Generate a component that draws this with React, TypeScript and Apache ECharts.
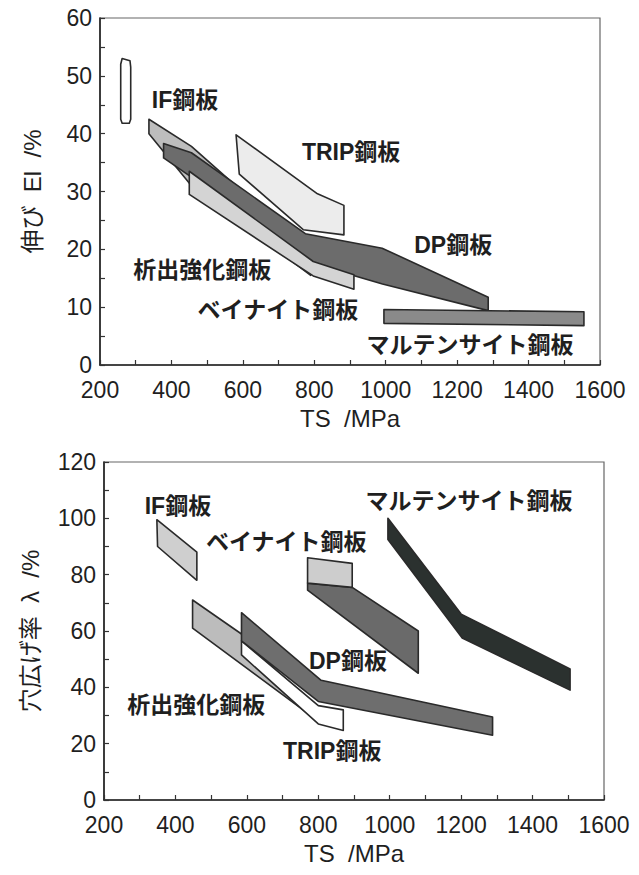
import React, { useEffect, useRef } from "react";
import * as echarts from "echarts";

// ---- axes ----
const TS_MIN = 200;
const TS_MAX = 1600;
const TS_STEP = 200;
const EL_MAX = 60;
const EL_STEP = 10;
const HER_MAX = 120;
const HER_STEP = 20;

// ---- top chart: TS (MPa) vs elongation El (%) ----
const elIF = [[258, 42.5], [258, 52], [262, 53], [284, 52.6], [286, 51.5], [286, 42.5], [282, 41.8], [262, 41.8]];
const elPrecip = [[337, 42.5], [456, 37.8], [790, 19.5], [790, 15.5], [456, 31], [337, 40]];
const elDP = [[378, 38.3], [456, 36.7], [775, 22.7], [990, 20.2], [1287, 11.7], [1287, 9.4], [991, 14], [797, 17.5], [456, 32.5], [378, 35.8]];
const elBainite = [[450, 33.5], [797, 17.9], [911, 15.6], [911, 13.1], [797, 15.4], [450, 29.5]];
const elTRIP = [[581, 39.8], [809, 29.6], [883, 27.6], [883, 22.5], [769, 23.4], [590, 33]];
const elMart = [[995, 9.6], [1555, 9.2], [1555, 6.8], [995, 7.2]];

const elLabelNames = ["IF鋼板", "TRIP鋼板", "DP鋼板", "析出強化鋼板", "ベイナイト鋼板", "マルテンサイト鋼板"];
const elLabelTS = [438, 903, 1189, 486, 698, 1236];
const elLabelEl = [45.8, 36.9, 20.8, 16.4, 9.5, 3.5];

// ---- bottom chart: TS (MPa) vs hole expansion ratio λ (%) ----
const hIF = [[348, 99.5], [460, 88], [460, 78], [350, 90]];
const hPrecip = [[448, 71], [590, 58.5], [800, 30], [800, 28], [448, 61]];
const hTRIP = [[585, 56.5], [800, 33.5], [870, 32], [870, 24.7], [800, 27], [585, 51.5]];
const hDP = [[585, 66.5], [808, 42.5], [1288, 29.5], [1288, 23], [800, 35], [585, 56.5]];
const hBainite = [[770, 77], [895, 75.5], [1080, 60], [1080, 45], [770, 74.5]];
const hBainiteBox = [[770, 86], [895, 84], [895, 75.5], [770, 77]];
const hMart = [[995, 100], [1200, 66], [1505, 46.5], [1505, 39], [1203, 57.5], [995, 92.5]];

const hLabelNames = ["IF鋼板", "ベイナイト鋼板", "マルテンサイト鋼板", "DP鋼板", "析出強化鋼板", "TRIP鋼板"];
const hLabelTS = [407, 710, 1222, 883, 458, 839];
const hLabelV = [104.5, 91.6, 106, 49.3, 33.7, 17.4];

const FONT = '"Liberation Sans", "Noto Sans CJK JP", sans-serif';
const INK = "#1f1f1f";

function polySeries(name: string, pts: number[][], fill: string, g: number, z: number) {
  return {
    type: "custom",
    name,
    xAxisIndex: g,
    yAxisIndex: g,
    silent: true,
    z,
    data: [pts[0]],
    renderItem: (params: any, api: any) => ({
      type: "polygon",
      shape: { points: pts.map((p) => api.coord(p)) },
      style: { fill, stroke: "#2a2a2a", lineWidth: 1.6, lineJoin: "round" },
    }),
  };
}

function labelSeries(names: string[], xs: number[], ys: number[], g: number) {
  return {
    type: "custom",
    xAxisIndex: g,
    yAxisIndex: g,
    silent: true,
    z: 20,
    data: xs.map((x, i) => [x, ys[i]]),
    renderItem: (params: any, api: any) => {
      const p = api.coord([api.value(0), api.value(1)]);
      return {
        type: "text",
        x: p[0],
        y: p[1],
        style: {
          text: names[params.dataIndex],
          fill: INK,
          font: `bold 23px ${FONT}`,
          align: "center",
          verticalAlign: "middle",
        },
      };
    },
  };
}

const tickStyle = { color: "#333", width: 1.2 };

function xAxis(g: number) {
  return {
    type: "value",
    gridIndex: g,
    min: TS_MIN,
    max: TS_MAX,
    interval: TS_STEP,
    name: "TS  /MPa",
    nameLocation: "middle",
    nameGap: 41,
    nameTextStyle: { fontSize: 24, color: INK, fontFamily: FONT },
    axisLine: { show: true, lineStyle: { color: "#222", width: 1.6 } },
    axisTick: { show: true, inside: true, length: 5, lineStyle: tickStyle },
    minorTick: { show: true, splitNumber: 2, length: 5, lineStyle: tickStyle },
    splitLine: { show: false },
    axisLabel: { fontSize: 23, color: INK, fontFamily: FONT, margin: 13, formatter: (v: number) => String(v) },
  };
}

function yAxis(g: number, max: number, step: number, name: string, gap: number) {
  return {
    type: "value",
    gridIndex: g,
    min: 0,
    max,
    interval: step,
    name,
    nameLocation: "middle",
    nameRotate: 90,
    nameGap: gap,
    nameTextStyle: { fontSize: 24, color: INK, fontFamily: FONT },
    axisLine: { show: true, lineStyle: { color: "#222", width: 1.6 } },
    axisTick: { show: true, inside: true, length: 5, lineStyle: tickStyle },
    minorTick: { show: true, splitNumber: 2, length: 5, lineStyle: tickStyle },
    splitLine: { show: false },
    axisLabel: { fontSize: 23, color: INK, fontFamily: FONT, margin: 8, formatter: (v: number) => String(v) },
  };
}

export default function App() {
  const ref = useRef<HTMLDivElement>(null);
  useEffect(() => {
    document.body.style.margin = "0";
    const chart = echarts.init(ref.current!, undefined, { renderer: "svg" });
    chart.setOption({
      animation: false,
      backgroundColor: "#ffffff",
      grid: [
        { left: 100, top: 18, width: 500, height: 347, show: true, borderColor: "#666", borderWidth: 1.2 },
        { left: 104, top: 462, width: 500, height: 338, show: true, borderColor: "#666", borderWidth: 1.2 },
      ],
      xAxis: [xAxis(0), xAxis(1)],
      yAxis: [
        yAxis(0, EL_MAX, EL_STEP, "伸び  El  /%", 56),
        yAxis(1, HER_MAX, HER_STEP, "穴広げ率  λ  /%", 62),
      ],
      series: [
        polySeries("析出強化鋼板", elPrecip, "#bdbdbd", 0, 2),
        polySeries("DP鋼板", elDP, "#6c6c6c", 0, 3),
        polySeries("ベイナイト鋼板", elBainite, "#d4d4d4", 0, 4),
        polySeries("TRIP鋼板", elTRIP, "#ececec", 0, 5),
        polySeries("IF鋼板", elIF, "#ffffff", 0, 5),
        polySeries("マルテンサイト鋼板", elMart, "#8a8a8a", 0, 5),
        labelSeries(elLabelNames, elLabelTS, elLabelEl, 0),

        polySeries("析出強化鋼板", hPrecip, "#bcbcbc", 1, 2),
        polySeries("TRIP鋼板", hTRIP, "#ffffff", 1, 3),
        polySeries("DP鋼板", hDP, "#6e6e6e", 1, 4),
        polySeries("ベイナイト鋼板", hBainite, "#6a6a6a", 1, 4),
        polySeries("ベイナイト鋼板", hBainiteBox, "#cdcdcd", 1, 5),
        polySeries("IF鋼板", hIF, "#cfcfcf", 1, 5),
        polySeries("マルテンサイト鋼板", hMart, "#2b312f", 1, 5),
        labelSeries(hLabelNames, hLabelTS, hLabelV, 1),
      ],
    });
    return () => chart.dispose();
  }, []);
  return <div ref={ref} style={{ width: 639, height: 875, background: "#fff" }} />;
}
